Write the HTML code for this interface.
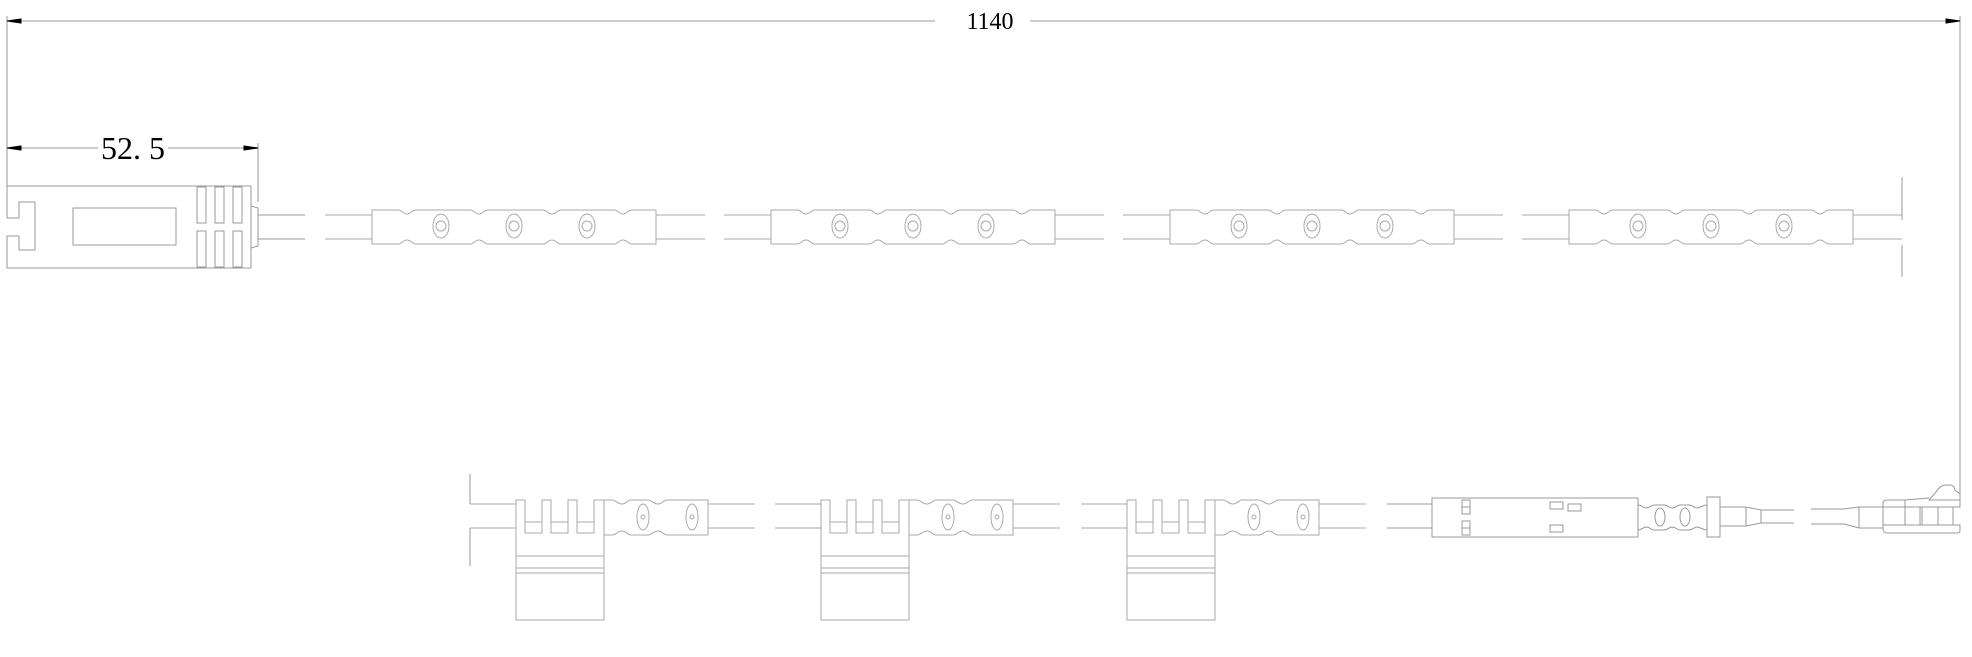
<!DOCTYPE html>
<html><head><style>html,body{margin:0;padding:0;background:#fff}svg{display:block}</style></head>
<body>
<svg width="1972" height="657" viewBox="0 0 1972 657" xmlns="http://www.w3.org/2000/svg">
<defs>
<g id="tape" fill="none" stroke="#aaa" stroke-width="1">
<path d="M0,0 H26 C30,0 31,4 35,4 C39,4 40,0 44,0 H98 C102,0 103,4 107,4 C111,4 112,0 116,0 H171 C175,0 176,4 180,4 C184,4 185,0 189,0 H242 C246,0 247,4 251,4 C255,4 256,0 260,0 H284 V34 H260 C256,34 255,30 251,30 C247,30 246,34 242,34 H189 C185,34 184,30 180,30 C176,30 175,34 171,34 H116 C112,34 111,30 107,30 C103,30 102,34 98,34 H44 C40,34 39,30 35,30 C31,30 30,34 26,34 H0 Z"/>
<ellipse cx="69" cy="16" rx="8" ry="12"/><circle cx="69" cy="16" r="5"/>
<ellipse cx="142" cy="16" rx="8" ry="12"/><circle cx="142" cy="16" r="5"/>
<ellipse cx="215" cy="16" rx="8" ry="12"/><circle cx="215" cy="16" r="5"/>
<path d="M-47,5 H0 M-47,29 H0 M284,5 H333 M284,29 H333"/>
</g>
<g id="comb" fill="none" stroke="#aaa" stroke-width="1">
<path d="M0,0 H9 V33 H26 V0 H35 V33 H52 V0 H61 V33 H78 V0 H88 V120 H0 Z"/>
<path d="M9,22 H26 M35,22 H52 M61,22 H78 M0,56 H88 M0,68 H88 M0,73 H88"/>
<path d="M88,0 H96 C100,0 101,4 106,4 C110,4 112,0 115,0 H132 C136,0 137,4 142,4 C146,4 148,0 151,0 H192 V35 H151 C148,35 146,31 142,31 C137,31 136,35 132,35 H115 C112,35 110,31 106,31 C101,31 100,35 96,35 H88"/>
<ellipse cx="127" cy="17" rx="6" ry="13"/><circle cx="127" cy="17" r="2"/>
<ellipse cx="176" cy="17" rx="6" ry="13"/><circle cx="176" cy="17" r="2"/>
<path d="M-46,4 H0 M-46,28 H0 M192,4 H239 M192,28 H239"/>
</g>
</defs>
<g fill="none" stroke="#999" stroke-width="1">
<!-- top dimension -->
<path d="M7,16 V186 M1960,16 V500 M7,21 H935 M1030,21 H1960"/>
<path d="M7,21 L21,19 L21,23 Z M1960,21 L1946,19 L1946,23 Z" fill="#000" stroke="#000"/>
<!-- 52.5 dimension -->
<path d="M258,143 V202 M7,148 H98 M168,148 H258"/>
<path d="M7,148 L21,146 L21,150 Z M258,148 L244,146 L244,150 Z" fill="#000" stroke="#000"/>
<!-- left connector -->
<path d="M7,186 H251 V268 H7 V236 H19 V250 H35 V202 H19 V218 H7 Z"/>
<rect x="73" y="208" width="103" height="37"/>
<rect x="197" y="187" width="9" height="36"/><rect x="215" y="187" width="9" height="36"/><rect x="233" y="187" width="9" height="36"/>
<rect x="197" y="231" width="9" height="36"/><rect x="215" y="231" width="9" height="36"/><rect x="233" y="231" width="9" height="36"/>
<path d="M251,206 L258,208 V246 L251,248 M258,215 H305 M258,239 H305"/>
<!-- break -->
<path d="M1902,177 V220 M1902,245 V277"/>
<!-- bottom left break -->
<path d="M470,474 V504 M470,528 V566"/>
<!-- box component -->
<rect x="1432" y="498" width="206" height="39"/>
<path d="M1387,504 H1432 M1387,528 H1432"/>
<rect x="1462" y="500" width="8" height="14"/><path d="M1462,507 H1470"/>
<rect x="1462" y="521" width="8" height="14"/><path d="M1462,528 H1470"/>
<rect x="1550" y="502" width="13" height="7"/><rect x="1568" y="504" width="13" height="7"/><rect x="1550" y="525" width="13" height="7"/>
<path d="M1638,505 C1642,505 1643,508 1646,508 C1650,508 1651,505 1654,505 H1664 C1668,505 1669,508 1672,508 C1676,508 1677,505 1680,505 H1689 C1693,505 1694,508 1697,508 C1701,508 1702,505 1707,505 M1638,530 C1642,530 1643,527 1646,527 C1650,527 1651,530 1654,530 H1664 C1668,530 1669,527 1672,527 C1676,527 1677,530 1680,530 H1689 C1693,530 1694,527 1697,527 C1701,527 1702,530 1707,530"/>
<ellipse cx="1660" cy="517" rx="5" ry="9"/><ellipse cx="1685" cy="517" rx="5" ry="9"/>
<rect x="1707" y="497" width="13" height="40"/>
<path d="M1720,507 H1746 V526 H1720 M1746,507 L1761,510 V523 L1746,526 M1761,510 H1794 M1761,523 H1794"/>
<!-- right connector -->
<path d="M1811,509 H1844 M1811,524 H1844 M1844,509 L1859,507 V528 L1844,524 M1859,507 H1883 M1859,528 H1883"/>
<path d="M1883,507 V528 Q1883,533 1887,533 H1958 Q1960,533 1960,530 V525 H1883 M1883,507 H1960 V500 H1929 L1936,492 Q1940,485 1946,485 H1950 Q1954,485 1955,490 L1960,494 M1883,507 V503 Q1883,500 1887,500 H1905 L1929,498 M1905,500 V507"/>
<path d="M1905,507 V525 M1920,507 V525 M1922,507 V525 M1938,507 V525 M1953,507 V525"/>
</g>
<use href="#tape" x="372" y="210"/>
<use href="#tape" x="771" y="210"/>
<use href="#tape" x="1170" y="210"/>
<use href="#tape" x="1569" y="210"/>
<use href="#comb" x="516" y="500"/>
<use href="#comb" x="821" y="500"/>
<use href="#comb" x="1127" y="500"/>
<text x="990" y="29" font-family="Liberation Serif, serif" font-size="24" text-anchor="middle" fill="#000">1140</text>
<text x="133" y="159" font-family="Liberation Serif, serif" font-size="32" text-anchor="middle" fill="#000">52. 5</text>
</svg>
</body></html>
